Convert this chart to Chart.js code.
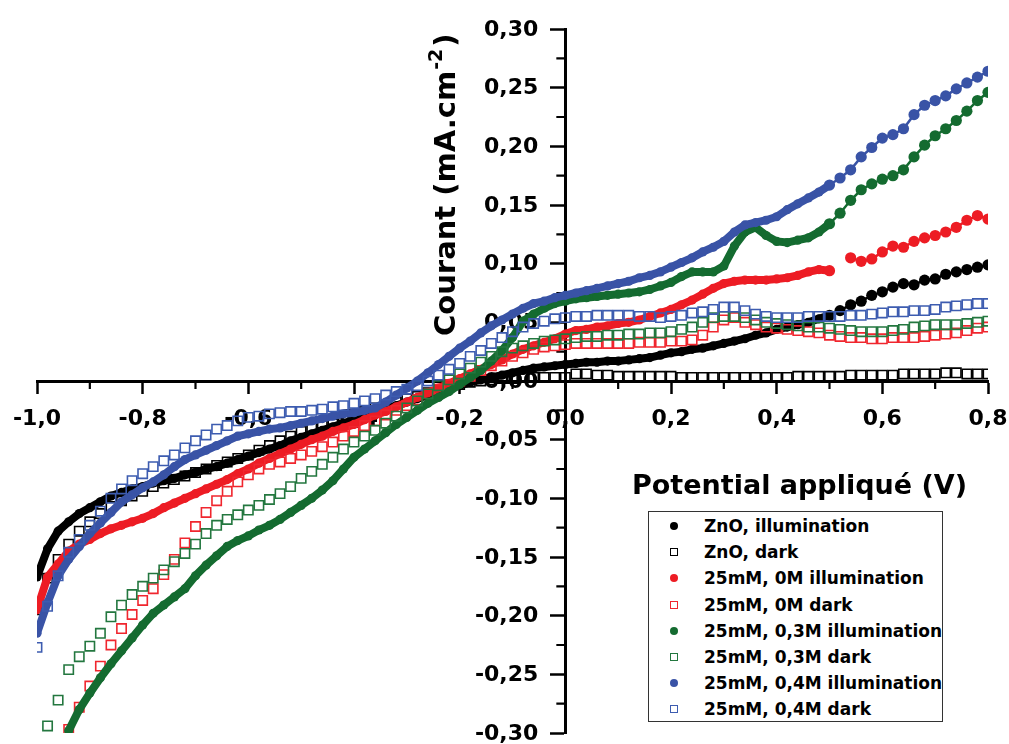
<!DOCTYPE html>
<html>
<head>
<meta charset="utf-8">
<script src="https://cdn.jsdelivr.net/npm/chart.js@4.4.1/dist/chart.umd.min.js"></script>
<style>
  body { margin: 0; background: #fff; }
  #wrap { position: relative; width: 1009px; height: 744px; }
  #legend {
    position: absolute; left: 648px; top: 511px; width: 293px; height: 209px;
    border: 1.5px solid #333; background: #fff;
    font: bold 17px "DejaVu Sans", sans-serif; color: #000;
  }
  .row { position: absolute; left: 0; height: 26px; line-height: 26px; white-space: nowrap; }
  .row span.txt { position: absolute; left: 55px; top: 0; }
  .mk { position: absolute; left: 21px; top: 9px; width: 8px; height: 8px; box-sizing: border-box; }
  .mk.fill { border-radius: 50%; }
  .mk.hollow { border: 1.6px solid; background: #fff; }
</style>
</head>
<body>
<div id="wrap">
  <canvas id="c" width="1009" height="744"></canvas>
  <div id="legend"></div>
</div>
<script>
// potentiel appliqué (V)
const potential = [
  -1.00,-0.98,-0.96,-0.94,-0.92,-0.90,-0.88,-0.86,-0.84,-0.82,
  -0.80,-0.78,-0.76,-0.74,-0.72,-0.70,-0.68,-0.66,-0.64,-0.62,
  -0.60,-0.58,-0.56,-0.54,-0.52,-0.50,-0.48,-0.46,-0.44,-0.42,
  -0.40,-0.38,-0.36,-0.34,-0.32,-0.30,-0.28,-0.26,-0.24,-0.22,
  -0.20,-0.18,-0.16,-0.14,-0.12,-0.10,-0.08,-0.06,-0.04,-0.02,
   0.00, 0.02, 0.04, 0.06, 0.08, 0.10, 0.12, 0.14, 0.16, 0.18,
   0.20, 0.22, 0.24, 0.26, 0.28, 0.30, 0.32, 0.34, 0.36, 0.38,
   0.40, 0.42, 0.44, 0.46, 0.48, 0.50, 0.52, 0.54, 0.56, 0.58,
   0.60, 0.62, 0.64, 0.66, 0.68, 0.70, 0.72, 0.74, 0.76, 0.78,
   0.80
];

// courant (mA.cm-2)
const znoIllum = [
  -0.167,-0.143,-0.128,-0.120,-0.113,-0.108,-0.103,-0.098,-0.095,-0.092,
  -0.090,-0.087,-0.085,-0.083,-0.080,-0.078,-0.075,-0.073,-0.070,-0.067,
  -0.064,-0.061,-0.058,-0.055,-0.051,-0.048,-0.045,-0.042,-0.039,-0.036,
  -0.033,-0.030,-0.027,-0.024,-0.021,-0.018,-0.015,-0.012,-0.009,-0.006,
  -0.004,-0.001,0.001,0.003,0.005,0.007,0.009,0.011,0.012,0.013,
  0.014,0.015,0.016,0.016,0.017,0.017,0.018,0.019,0.020,0.022,
  0.024,0.025,0.027,0.028,0.030,0.032,0.034,0.036,0.039,0.041,
  0.044,0.046,0.048,0.050,0.053,0.056,0.060,0.065,0.068,0.073,
  0.076,0.080,0.083,0.082,0.086,0.087,0.091,0.093,0.095,0.097,
  0.099
];
const znoDark = [
  -0.195,-0.168,-0.152,-0.139,-0.128,-0.120,-0.113,-0.107,-0.102,-0.098,
  -0.094,-0.090,-0.087,-0.084,-0.081,-0.078,-0.075,-0.072,-0.069,-0.066,
  -0.063,-0.059,-0.055,-0.051,-0.047,-0.043,-0.040,-0.036,-0.033,-0.030,
  -0.028,-0.026,-0.023,-0.021,-0.018,-0.015,-0.013,-0.010,-0.008,-0.005,
  -0.003,-0.001,0.000,0.001,0.002,0.002,0.003,0.003,0.003,0.003,
  0.003,0.006,0.006,0.005,0.005,0.004,0.004,0.004,0.004,0.004,
  0.004,0.003,0.003,0.003,0.003,0.003,0.003,0.003,0.003,0.003,
  0.003,0.003,0.004,0.004,0.004,0.004,0.004,0.005,0.005,0.005,
  0.005,0.005,0.006,0.006,0.006,0.006,0.007,0.007,0.006,0.006,
  0.006
];
const m0Illum = [
  -0.195,-0.167,-0.156,-0.145,-0.139,-0.135,-0.130,-0.126,-0.123,-0.120,
  -0.117,-0.113,-0.108,-0.104,-0.100,-0.096,-0.092,-0.088,-0.084,-0.079,
  -0.075,-0.070,-0.066,-0.062,-0.058,-0.054,-0.050,-0.047,-0.043,-0.040,
  -0.037,-0.033,-0.029,-0.026,-0.022,-0.018,-0.014,-0.010,-0.006,-0.002,
  0.002,0.006,0.010,0.014,0.018,0.023,0.027,0.030,0.033,0.036,
  0.040,0.043,0.044,0.046,0.047,0.049,0.050,0.052,0.055,0.058,
  0.061,0.065,0.069,0.074,0.079,0.083,0.085,0.086,0.086,0.086,
  0.087,0.088,0.090,0.093,0.095,0.094,null,0.105,0.102,0.104,
  0.110,0.115,0.114,0.119,0.122,0.124,0.127,0.131,0.137,0.141,
  0.138
];
const m0Dark = [
  null,null,null,-0.297,-0.278,-0.260,-0.243,-0.225,-0.211,-0.199,
  -0.187,-0.177,-0.165,-0.152,-0.138,-0.124,-0.112,-0.102,-0.094,-0.086,
  -0.080,-0.075,-0.071,-0.069,-0.066,-0.063,-0.060,-0.056,-0.052,-0.047,
  -0.043,-0.038,-0.034,-0.029,-0.025,-0.021,-0.016,-0.011,-0.007,-0.003,
  0.000,0.004,0.009,0.013,0.017,0.021,0.024,0.027,0.029,0.030,
  0.031,0.032,0.032,0.032,0.032,0.032,0.032,0.033,0.033,0.033,
  0.034,0.034,0.035,0.039,0.046,0.052,0.054,0.050,0.048,0.046,
  0.045,0.044,0.043,0.042,0.041,0.039,0.038,0.037,0.037,0.036,
  0.036,0.037,0.037,0.037,0.038,0.039,0.040,0.041,0.043,0.045,
  0.046
];
const m03Illum = [
  null,null,null,-0.298,-0.280,-0.266,-0.253,-0.241,-0.230,-0.219,
  -0.208,-0.198,-0.191,-0.184,-0.177,-0.166,-0.157,-0.149,-0.141,-0.136,
  -0.132,-0.127,-0.123,-0.118,-0.112,-0.106,-0.100,-0.093,-0.085,-0.075,
  -0.065,-0.058,-0.051,-0.044,-0.037,-0.031,-0.025,-0.019,-0.014,-0.009,
  -0.003,0.003,0.009,0.017,0.026,0.037,0.051,0.057,0.062,0.066,
  0.068,0.070,0.071,0.072,0.073,0.074,0.075,0.076,0.078,0.081,
  0.084,0.089,0.093,0.093,0.093,0.098,0.115,0.127,0.131,0.124,
  0.119,0.118,0.120,0.122,0.127,0.134,0.143,0.154,0.163,0.168,
  0.172,0.175,0.180,0.191,0.201,0.209,0.215,0.222,0.230,0.239,
  0.246
];
const m03Dark = [
  null,-0.294,-0.272,-0.246,-0.235,-0.226,-0.215,-0.201,-0.191,-0.182,
  -0.175,-0.168,-0.161,-0.154,-0.147,-0.139,-0.130,-0.123,-0.118,-0.114,
  -0.110,-0.106,-0.101,-0.096,-0.090,-0.083,-0.077,-0.071,-0.065,-0.058,
  -0.052,-0.047,-0.042,-0.036,-0.030,-0.023,-0.017,-0.011,-0.004,0.001,
  0.006,0.011,0.016,0.021,0.025,0.028,0.030,0.032,0.034,0.035,
  0.036,0.037,0.038,0.038,0.039,0.039,0.040,0.040,0.041,0.041,
  0.042,0.044,0.046,0.050,0.054,0.055,0.055,0.054,0.052,0.050,
  0.049,0.048,0.047,0.046,0.046,0.045,0.044,0.043,0.042,0.042,
  0.042,0.043,0.044,0.046,0.047,0.048,0.048,0.048,0.049,0.050,
  0.051
];
const m04Illum = [
  -0.215,-0.189,-0.166,-0.152,-0.141,-0.130,-0.121,-0.112,-0.103,-0.097,
  -0.091,-0.086,-0.080,-0.073,-0.067,-0.063,-0.059,-0.055,-0.051,-0.047,
  -0.045,-0.043,-0.041,-0.040,-0.038,-0.036,-0.034,-0.032,-0.030,-0.028,
  -0.027,-0.025,-0.023,-0.018,-0.012,-0.006,0.000,0.007,0.014,0.021,
  0.028,0.034,0.041,0.047,0.052,0.057,0.062,0.066,0.068,0.071,
  0.073,0.075,0.077,0.079,0.081,0.083,0.085,0.088,0.090,0.093,
  0.097,0.101,0.105,0.110,0.114,0.119,0.127,0.133,0.135,0.137,
  0.140,0.146,0.151,0.156,0.161,0.167,0.173,0.180,0.191,0.199,
  0.207,0.210,0.215,0.227,0.235,0.239,0.243,0.249,0.254,0.259,
  0.264
];
const m04Dark = [
  -0.227,-0.192,-0.166,-0.146,-0.135,-0.123,-0.111,-0.100,-0.092,-0.085,
  -0.079,-0.073,-0.068,-0.063,-0.057,-0.051,-0.046,-0.041,-0.038,-0.034,
  -0.031,-0.030,-0.028,-0.027,-0.026,-0.026,-0.025,-0.024,-0.022,-0.021,
  -0.019,-0.017,-0.015,-0.012,-0.009,-0.007,-0.004,0.000,0.005,0.010,
  0.015,0.021,0.026,0.032,0.037,0.042,0.046,0.049,0.051,0.053,
  0.054,0.055,0.055,0.056,0.056,0.056,0.056,0.055,0.055,0.054,
  0.055,0.056,0.058,0.059,0.061,0.063,0.063,0.060,0.057,0.055,
  0.054,0.054,0.054,0.055,0.055,0.055,0.055,0.056,0.056,0.057,
  0.058,0.059,0.059,0.060,0.060,0.061,0.063,0.064,0.065,0.066,
  0.066
];

const seriesNames = [
  'ZnO, illumination', 'ZnO, dark',
  '25mM, 0M illumination', '25mM, 0M dark',
  '25mM, 0,3M illumination', '25mM, 0,3M dark',
  '25mM, 0,4M illumination', '25mM, 0,4M dark'
];
const seriesValues = [znoIllum, znoDark, m0Illum, m0Dark, m03Illum, m03Dark, m04Illum, m04Dark];
const seriesColors = ['#000000', '#000000', '#ed1c24', '#f0262e', '#146b30', '#23773f', '#3953a6', '#3d5cb0'];

const xMinorTicks = [-0.9, -0.7, -0.5, -0.3, -0.1, 0.1, 0.3, 0.5, 0.7];
const yMinorTicks = [-0.275, -0.225, -0.175, -0.125, -0.075, -0.025, 0.025, 0.075, 0.125, 0.175, 0.225, 0.275];

const fontFam = '"DejaVu Sans", sans-serif';

const datasets = seriesValues.map((vals, i) => {
  const pts = potential.map((x, k) => ({ x: x, y: vals[k] }));
  const isDark = i % 2 === 1;
  if (isDark) {
    return {
      label: seriesNames[i], data: pts, order: 8 - i,
      showLine: false, pointStyle: 'rect', pointRadius: 6.6,
      borderColor: seriesColors[i], backgroundColor: 'rgba(255,255,255,0)',
      pointBorderWidth: 1.6
    };
  }
  return {
    label: seriesNames[i], data: pts, order: 8 - i,
    showLine: true, spanGaps: false,
    borderColor: seriesColors[i], backgroundColor: seriesColors[i],
    borderWidth: 8, pointBorderWidth: 0, pointStyle: 'circle',
    pointRadius: c => (c.parsed && c.parsed.x >= 0.5 ? 5.6 : 4.6),
    segment: { borderWidth: c => (c.p0.parsed.x >= 0.5 ? 2.5 : 8) }
  };
});

// no space taken by the crossing axes
function flatten(s) {
  if (s.isHorizontal()) s.height = 0; else s.width = 0;
  s.paddingLeft = 0; s.paddingRight = 0; s.paddingTop = 0; s.paddingBottom = 0;
}

// petites graduations, étiquettes de l'axe Y, titres
const extras = {
  id: 'extras',
  beforeDatasetsDraw(chart) {
    const { ctx, scales: { x, y } } = chart;
    const axisY = y.getPixelForValue(0);
    const axisX = x.getPixelForValue(0);
    ctx.save();
    ctx.strokeStyle = '#000';
    ctx.lineWidth = 2.2;
    ctx.beginPath();
    xMinorTicks.forEach(v => {
      const px = x.getPixelForValue(v);
      ctx.moveTo(px, axisY);
      ctx.lineTo(px, axisY + 8);
    });
    yMinorTicks.forEach(v => {
      const py = y.getPixelForValue(v);
      ctx.moveTo(axisX, py);
      ctx.lineTo(axisX - 9, py);
    });
    ctx.stroke();

    ctx.fillStyle = '#000';
    ctx.font = 'bold 22px ' + fontFam;
    ctx.textAlign = 'right';
    ctx.textBaseline = 'middle';
    y.ticks.forEach(t => {
      ctx.fillText(t.value.toFixed(2).replace('.', ','), axisX - 27, y.getPixelForValue(t.value) + 1);
    });

    ctx.font = 'bold 27px ' + fontFam;
    ctx.textBaseline = 'alphabetic';
    ctx.textAlign = 'left';
    ctx.fillText('Potential appliqué (V)', 632, 494);

    ctx.translate(455, 336);
    ctx.rotate(-Math.PI / 2);
    ctx.font = 'bold 29px ' + fontFam;
    const main = 'Courant (mA.cm';
    ctx.fillText(main, 0, 0);
    const w1 = ctx.measureText(main).width;
    ctx.font = 'bold 19px ' + fontFam;
    ctx.fillText('-2', w1 + 1, -13);
    const w2 = ctx.measureText('-2').width;
    ctx.font = 'bold 29px ' + fontFam;
    ctx.fillText(')', w1 + w2 + 3, 0);
    ctx.restore();
  }
};

new Chart(document.getElementById('c'), {
  type: 'scatter',
  data: { datasets: datasets },
  plugins: [extras],
  options: {
    responsive: false,
    animation: false,
    events: [],
    layout: { padding: { left: 37, right: 21, top: 29, bottom: 11 } },
    plugins: { legend: { display: false }, tooltip: { enabled: false } },
    scales: {
      x: {
        type: 'linear', min: -1, max: 0.8,
        position: { y: 0 },
        afterFit: flatten,
        border: { display: true, color: '#000', width: 3 },
        grid: { drawOnChartArea: false, drawTicks: true, tickLength: 11, tickWidth: 2.5, tickColor: '#000' },
        ticks: {
          stepSize: 0.2, padding: 14, color: '#000', maxRotation: 0,
          font: { family: fontFam, weight: 'bold', size: 22 },
          callback: v => v.toFixed(1).replace('.', ',')
        }
      },
      y: {
        type: 'linear', min: -0.3, max: 0.3,
        position: { x: 0 },
        afterFit: flatten,
        border: { display: true, color: '#000', width: 3 },
        grid: { drawOnChartArea: false, drawTicks: true, tickLength: 14, tickWidth: 2.5, tickColor: '#000' },
        ticks: { stepSize: 0.05, display: false }
      }
    }
  }
});

// légende
const legend = document.getElementById('legend');
seriesNames.forEach((name, i) => {
  const row = document.createElement('div');
  row.className = 'row';
  row.style.top = (1 + i * 26.2) + 'px';
  const mk = document.createElement('span');
  const isDark = i % 2 === 1;
  mk.className = 'mk ' + (isDark ? 'hollow' : 'fill');
  if (isDark) mk.style.borderColor = seriesColors[i];
  else mk.style.background = seriesColors[i];
  const txt = document.createElement('span');
  txt.className = 'txt';
  txt.textContent = name;
  row.appendChild(mk);
  row.appendChild(txt);
  legend.appendChild(row);
});
</script>
</body>
</html>
